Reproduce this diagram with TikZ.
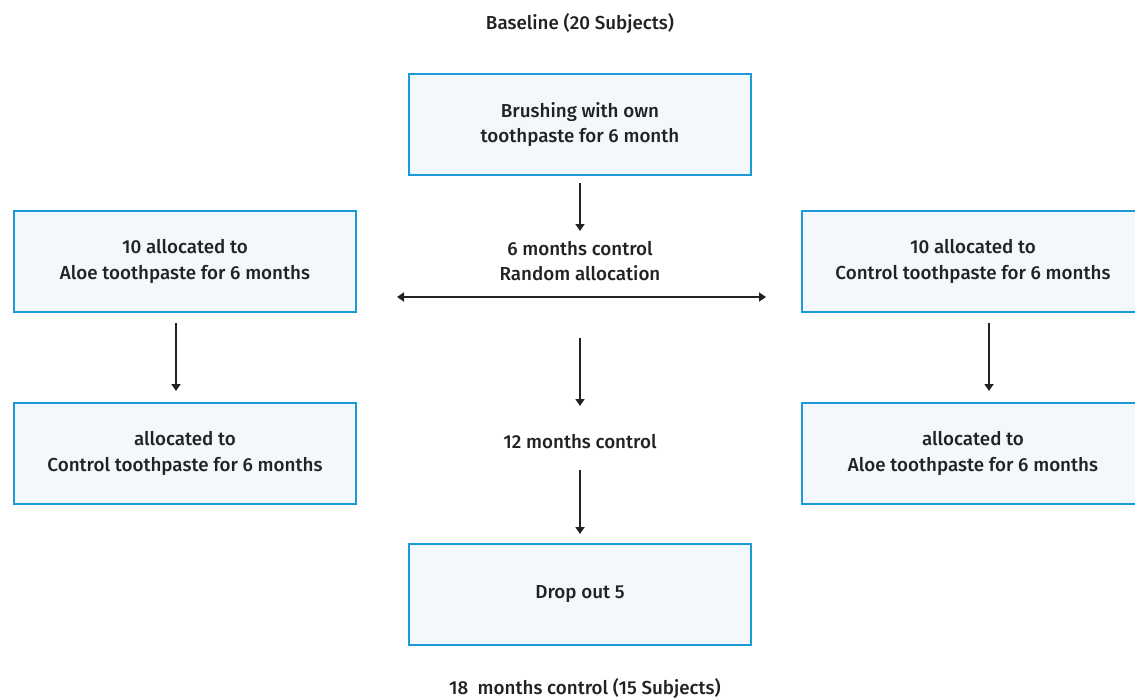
\documentclass[tikz,border=0pt]{standalone}
\usepackage{fontspec}
\setmainfont{Fira Sans}[UprightFont=* Medium]
\usetikzlibrary{arrows.meta}
\definecolor{boxblue}{HTML}{1A9AD6}
\definecolor{boxfill}{HTML}{F3F8FD}
\definecolor{ink}{HTML}{222222}
\begin{document}
\begin{tikzpicture}[x=1pt,y=-1pt,
  lbl/.style={align=center,font=\fontsize{18.8}{25.5}\selectfont,text=ink,inner sep=0pt},
  flowbox/.style={lbl,draw=boxblue,fill=boxfill,line width=2.6pt,minimum width=342pt,minimum height=101pt},
  arr/.style={draw=ink,line width=2pt,-{Triangle[length=7pt,width=9pt]}},
  darr/.style={draw=ink,line width=2pt,{Triangle[length=7pt,width=9pt]}-{Triangle[length=7pt,width=9pt]}}]
\useasboundingbox (0,0) rectangle (1135,698);
\fill[white] (0,0) rectangle (1135,698);
\node[lbl] (base) at (580,23.5) {Baseline (20 Subjects)};
\node[flowbox] (top) at (580,124.5) {Brushing with own\\toothpaste for 6 month};
\node[flowbox] (l1) at (185,261.5) {10 allocated to\\Aloe toothpaste for 6 months};
\node[flowbox] (r1) at (973,261.5) {10 allocated to\\Control toothpaste for 6 months};
\node[flowbox] (l2) at (185,453.5) {allocated to\\Control toothpaste for 6 months};
\node[flowbox] (r2) at (973,453.5) {allocated to\\Aloe toothpaste for 6 months};
\node[flowbox] (drop) at (580,594.5) {Drop out 5};
\node[lbl] (six) at (580,261) {6 months control\\Random allocation};
\node[lbl] (twelve) at (580,441.5) {12 months control};
\node[lbl] (eighteen) at (585,689) {18\ \ months control (15 Subjects)};
\coordinate (a1s) at (580,183);
\coordinate (a1e) at (580,231);
\coordinate (hl) at (397,297);
\coordinate (hr) at (766,297);
\coordinate (a2s) at (580,338);
\coordinate (a2e) at (580,406);
\coordinate (a3s) at (580,470);
\coordinate (a3e) at (580,534);
\coordinate (las) at (176,323);
\coordinate (lae) at (176,391);
\coordinate (ras) at (989,323);
\coordinate (rae) at (989,391);
\draw[arr] (a1s) -- (a1e);
\draw[darr] (hl) -- (hr);
\draw[arr] (a2s) -- (a2e);
\draw[arr] (a3s) -- (a3e);
\draw[arr] (las) -- (lae);
\draw[arr] (ras) -- (rae);
\end{tikzpicture}
\end{document}
